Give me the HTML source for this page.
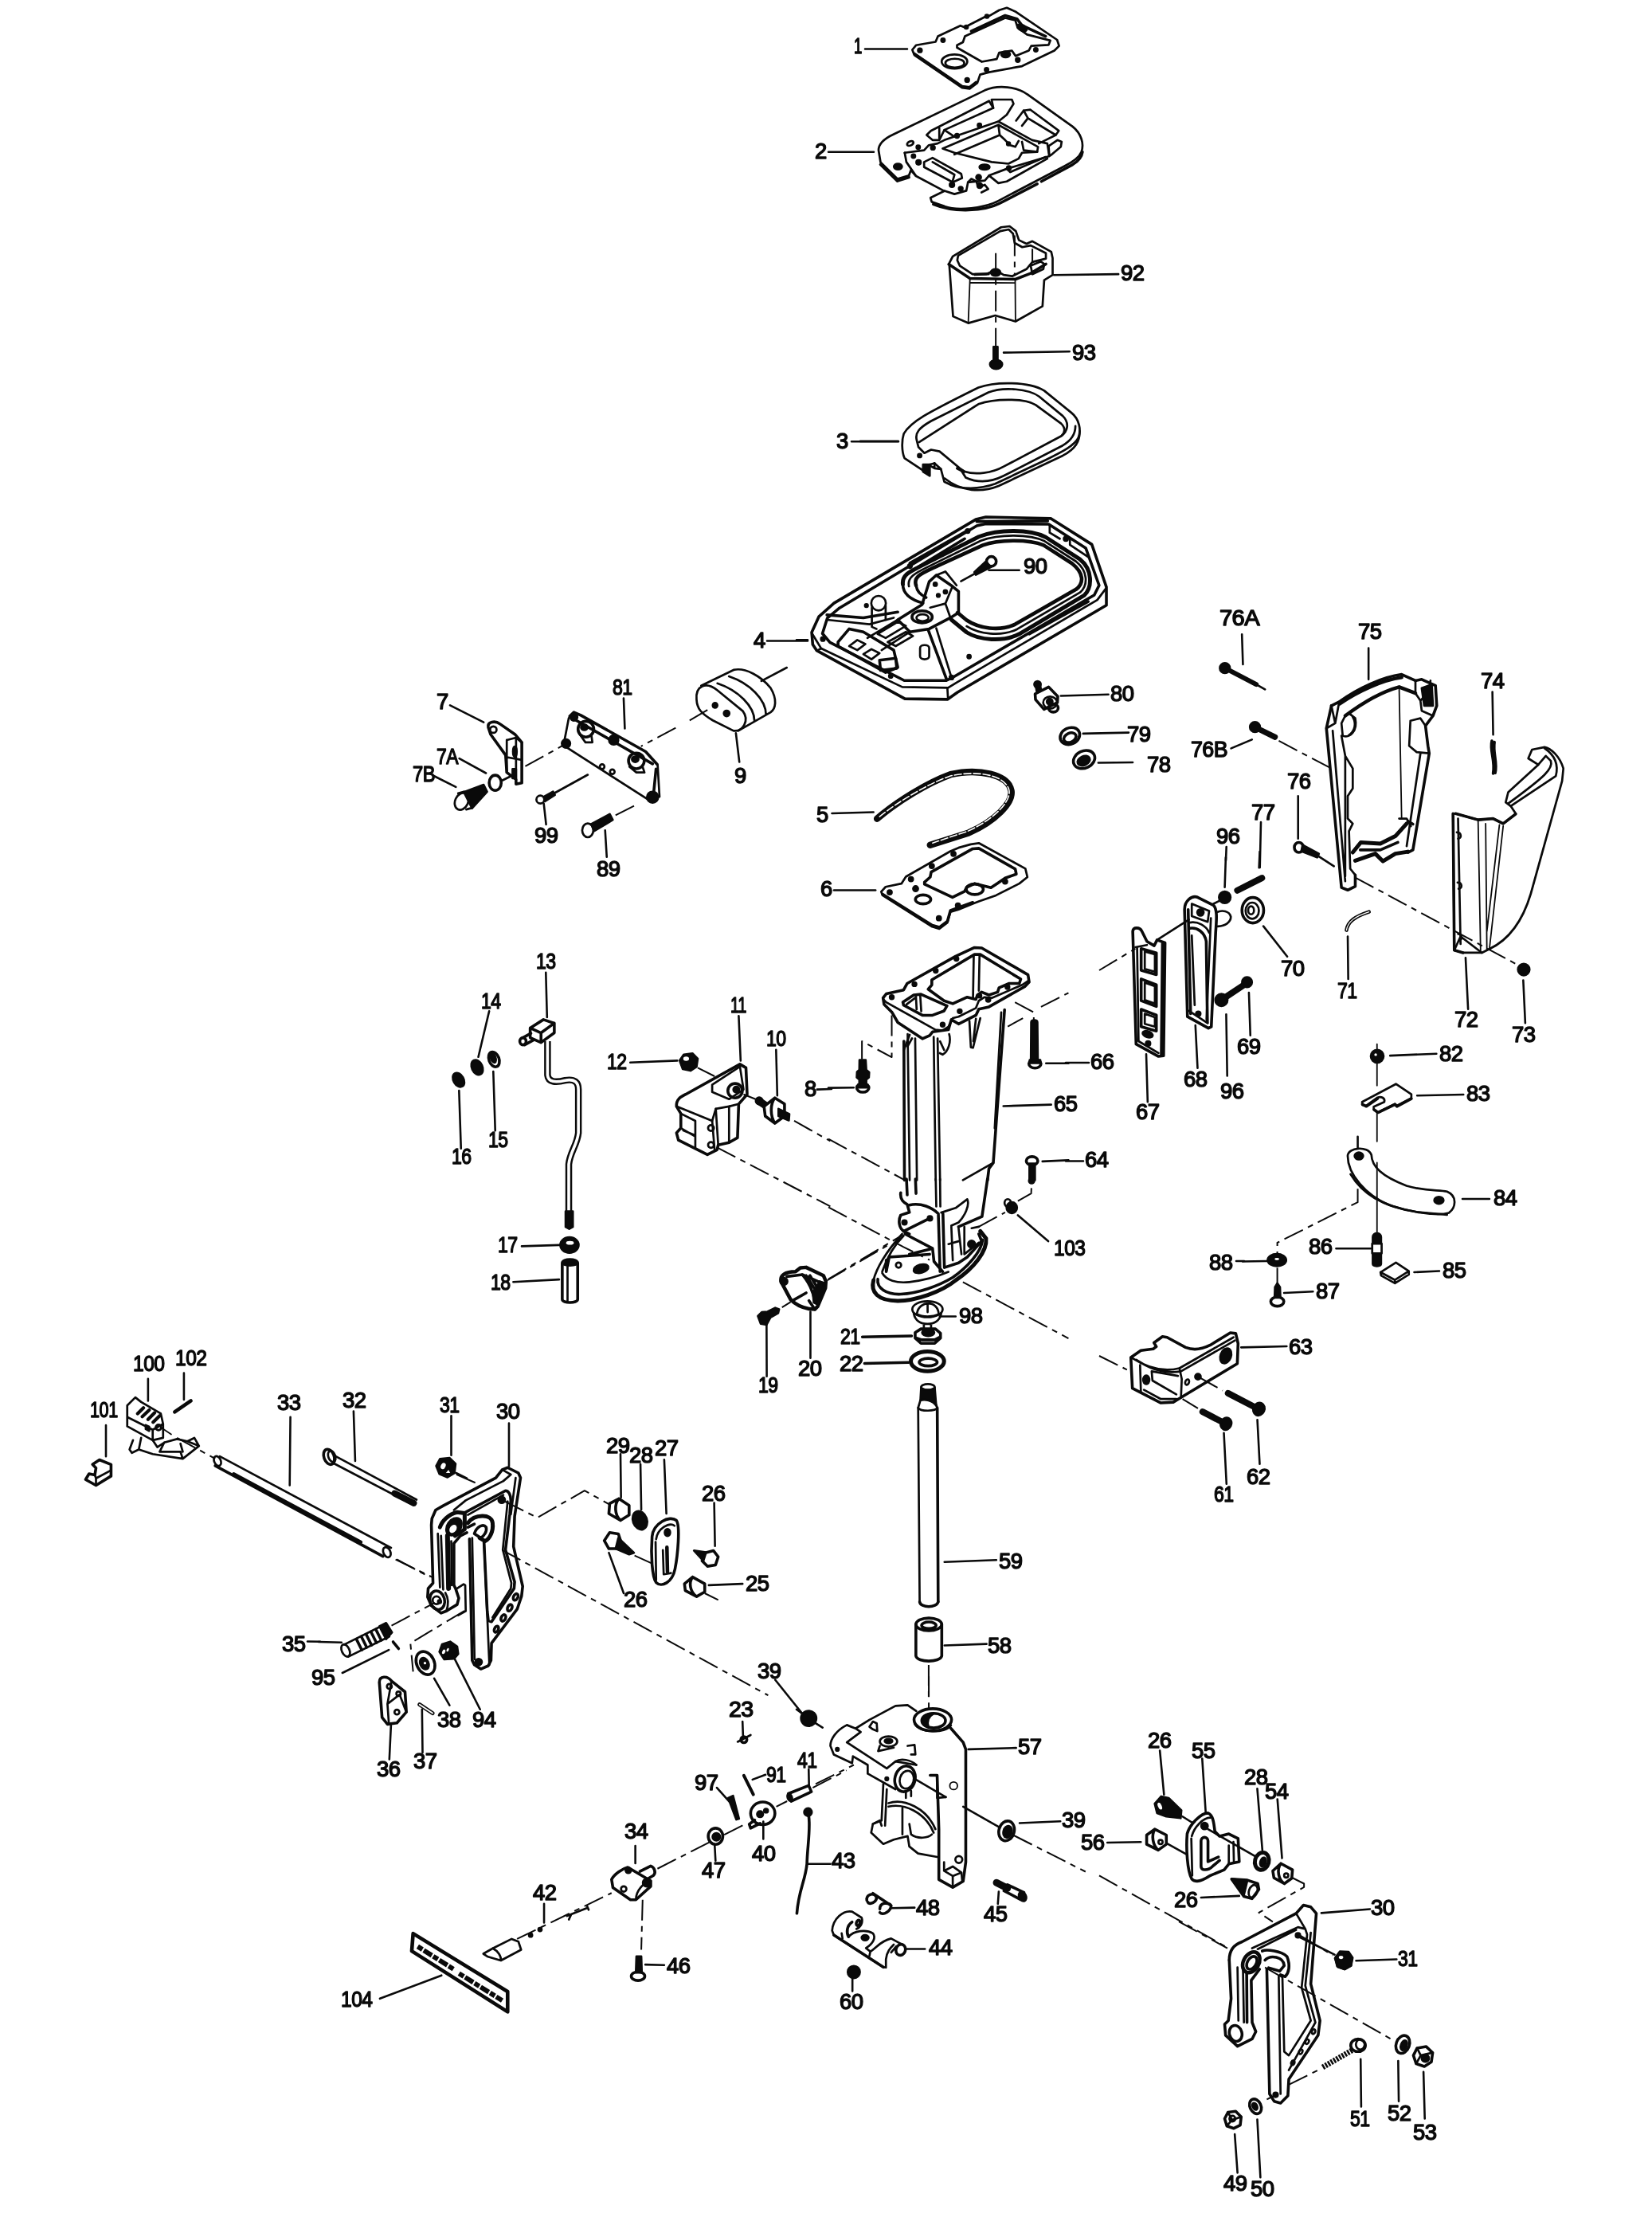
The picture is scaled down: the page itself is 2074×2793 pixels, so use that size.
<!DOCTYPE html>
<html><head><meta charset="utf-8"><title>Parts diagram</title>
<style>
html,body{margin:0;padding:0;background:#fff}
svg{display:block}
svg *{vector-effect:non-scaling-stroke}
.d path,.d line,.d ellipse,.d circle,.d polyline,.d rect{fill:none;stroke:#0a0a0a;stroke-width:2.7;stroke-linecap:round;stroke-linejoin:round}
.d .f{fill:#0a0a0a}
.d .w{fill:#fff}
.d .t{stroke-width:1.8}
.d .k{stroke-width:3.6}
.d .c{stroke-width:2;stroke-dasharray:26 7 7 7;stroke-linecap:butt}
.d .l{stroke-width:2.6}
text{font-family:"Liberation Sans",sans-serif;font-size:28.5px;fill:#0a0a0a;stroke:#0a0a0a;stroke-width:1.5;stroke-linejoin:round;letter-spacing:-0.6px}
</style></head><body>
<svg width="2074" height="2793" viewBox="0 0 2074 2793">
<rect width="2074" height="2793" fill="#fff"/>
<g class="d" transform="translate(1050,0) scale(0.211864)"><!-- a01_p1_p2.svgf -->
<path d="M450,295 L472,268 L588,248 L602,215 L735,152 L760,162 L880,100 L905,95 L965,60 L1010,46 L1060,68 L1308,236 L1320,272 L1292,300 L1100,392 L905,428 L852,442 L835,492 L790,526 L745,520 L462,326 Z"/>
<path class="k" d="M462,318 L745,512 L790,518 L828,488"/>
<path d="M715,268 L750,250 L762,215 L1000,106 L1060,120 L1075,165 L1130,205 L1268,240 L1258,266 L1155,272 L1140,300 L1062,332 L1040,300 L965,312 L950,350 L862,366 L715,282 Z"/>
<path class="k" d="M800,185 L1000,92 L1070,112 L1100,150 L1240,215"/>
<ellipse cx="700" cy="365" rx="76" ry="42"/>
<ellipse cx="702" cy="374" rx="56" ry="26"/>
<circle class="f" cx="495" cy="298" r="11"/><circle class="f" cx="632" cy="238" r="10"/><circle class="f" cx="770" cy="160" r="9"/><circle class="f" cx="892" cy="97" r="9"/>
<ellipse class="f" cx="1100" cy="165" rx="30" ry="16" transform="rotate(30 1100 165)"/>
<circle class="f" cx="1182" cy="295" r="10"/><circle class="f" cx="1075" cy="355" r="11"/><circle class="f" cx="890" cy="413" r="10"/><circle class="f" cx="775" cy="474" r="11"/>
<ellipse class="f" cx="1003" cy="322" rx="26" ry="17"/>
<path d="M250,890 C250,850 290,818 340,795 L880,535 C960,500 1075,515 1130,558 L1400,750 C1450,790 1470,850 1452,900 C1440,930 1400,960 1350,985 L960,1190 C880,1232 720,1252 640,1222 L565,1196 L558,1172 L640,1132 L470,1042 L442,1008 L430,1040 L362,1060 L262,962 Z"/>
<path class="k" d="M262,975 L362,1072 L430,1050"/>
<path class="k" d="M575,1210 C700,1262 880,1250 965,1206 L1190,1090 M1215,1075 L1400,975 C1440,950 1455,925 1458,900"/>
<path d="M405,905 L520,890 L548,860 L600,850 L640,830 L960,720 L1160,830 L1250,850 L1262,925 L1010,1000 L905,1040 L880,1070 L780,1080 L770,1130 L700,1150 L640,1130"/>
<path d="M405,905 L415,960 L470,1040"/>
<path d="M535,800 L560,775 L905,598 L930,640 L640,770 L610,830 L570,830 Z"/>
<path d="M930,640 L920,590 L1040,590 L1050,615 L1010,680 L960,720"/>
<path d="M640,770 L700,810 M610,760 L610,820"/>
<path d="M1065,715 L1110,655 L1150,650 L1318,775 L1300,800 L1240,830 L1200,850"/>
<path d="M1110,655 L1135,700 L1100,745 M1135,700 L1300,800"/>
<path d="M1262,925 L1258,865 L1310,830 L1335,840 L1330,870 L1270,920"/>
<path d="M630,880 L960,740 L1195,870 L1190,900 L1100,905 L1080,940 L1020,970 L920,960 L700,905 Z"/>
<path d="M960,740 L968,800 L1000,830 L1030,860 M700,915 L968,800 M1100,840 L1110,890 L1190,900 M1030,860 L1060,870 L1080,835"/>
<path d="M520,960 L570,935 L740,1030 L745,1055 L690,1080 L520,990 Z"/>
<path d="M570,960 L700,1035 L690,1070"/>
<path d="M905,1040 L960,1085 L1010,1075 L1250,940"/>
<path d="M1010,1000 L1030,1020 L1240,930"/>
<path d="M780,1080 L800,1060 L830,1075 L840,1110 L880,1095 L900,1120 L860,1140"/>
<ellipse cx="438" cy="850" rx="20" ry="12" transform="rotate(-25 438 850)"/>
<ellipse class="f" cx="365" cy="987" rx="24" ry="17"/><ellipse class="f" cx="878" cy="990" rx="30" ry="15"/>
<circle class="f" cx="485" cy="872" r="10"/><circle class="f" cx="572" cy="875" r="11"/><circle class="f" cx="457" cy="925" r="10"/><circle class="f" cx="487" cy="962" r="13"/>
<circle class="f" cx="715" cy="805" r="11"/><circle class="f" cx="848" cy="742" r="10"/><circle class="f" cx="1020" cy="852" r="9"/><circle class="f" cx="1022" cy="996" r="11"/>
<circle class="f" cx="685" cy="1095" r="13"/><circle class="f" cx="737" cy="1118" r="11"/><circle class="f" cx="843" cy="1050" r="14"/><circle class="f" cx="850" cy="1100" r="14"/>
</g>
<g class="d" transform="translate(1080,270) scale(0.211864)"><!-- a02_p92_p3.svgf -->
<path d="M525,290 L548,245 L835,72 L885,66 L922,95 L940,148 L985,170 L1020,155 L1132,218 L1140,255 L1140,355 L1090,385 L1080,540 L920,630 L800,595 L640,640 L550,600 L528,300"/>
<path d="M575,268 L580,240 L830,95 L880,85 L905,110 L915,165 L960,190 L1010,180 L1100,225 L1100,258 L1020,278 L985,320 L900,362 L850,355 L800,325 L745,350 L665,350 L590,300 Z"/>
<path class="k" d="M525,292 L650,375 L920,380 L1010,345 L1100,290"/>
<path class="t" d="M650,400 L915,402 M650,380 L640,640 M918,385 L920,630"/>
<path d="M1010,300 L1070,275 L1090,290 L1085,320 L1020,350 Z"/>
<ellipse class="f" cx="802" cy="340" rx="28" ry="20"/>
<path class="k" d="M680,352 L760,348"/>
<path class="c t" d="M803,225 L803,790 M915,120 L915,360 M1020,200 L1020,280"/>
<rect class="f" x="790" y="780" width="24" height="95"/><ellipse class="f" cx="805" cy="885" rx="36" ry="27"/>
<path class="l" d="M1148,355 L1530,350 M850,815 L1240,808"/>
<path d="M258,1295 C300,1225 380,1180 700,1022 C800,985 1000,985 1090,1040 L1250,1170 C1300,1210 1310,1275 1292,1320 C1270,1365 1200,1400 1100,1450 L800,1592 C700,1628 600,1622 540,1600 L498,1580 L478,1505 L440,1470 L405,1480 L385,1522 L262,1440 C245,1400 245,1335 258,1295 Z"/>
<path d="M335,1335 C322,1290 350,1260 420,1220 L760,1050 C850,1015 1000,1030 1060,1075 L1200,1190 C1240,1230 1232,1280 1190,1310 L850,1490 C780,1530 680,1540 620,1520 L590,1500 L470,1400 L420,1390 L380,1410 L345,1375 Z"/>
<path d="M350,1345 L700,1120 C800,1085 980,1085 1040,1125 L1190,1235 C1215,1260 1215,1285 1195,1305"/>
<path d="M600,1515 L625,1555 C700,1590 780,1580 850,1545 L1200,1365 C1260,1330 1275,1290 1275,1250"/>
<path d="M500,1560 C600,1640 720,1645 820,1605 L1200,1425 C1275,1385 1302,1340 1300,1280"/>
<path d="M405,1480 L440,1500 L478,1505 M440,1470 L440,1500 M385,1480 L385,1522"/>
<path class="f" d="M372,1478 L412,1478 L412,1545 L372,1520 Z"/>
<circle class="f" cx="352" cy="1425" r="10"/>
<path class="k" d="M575,1500 L615,1520"/>
<path class="l" d="M0,1340 L225,1340"/>
</g>
<g class="d" transform="translate(1000,600) scale(0.254259)"><!-- a03_p4.svgf -->
<path class="k" d="M75,762 L110,685 L185,618 L885,205 L935,193 L1255,200 L1458,328 L1530,538 L1530,628 L1490,652 L795,1058 L745,1093 L535,1090 L100,852 L80,822 Z"/>
<path d="M78,770 L122,842 L522,1032 L748,1036 L790,1010 L1485,602 L1528,545"/>
<path class="k" d="M128,768 L152,692 L212,642 L890,236 L935,226 L1245,228 L1428,346 L1494,530 L1470,578 L772,984 L740,1000 L532,1000 L165,812 Z"/>
<path d="M745,1040 L748,1090 M122,842 L105,850"/>
<path class="k" d="M560,420 L840,262 M600,440 L830,300 M890,215 L1240,212 M1150,770 L1440,610"/>
<path style="stroke-width:5" d="M525,525 C520,480 560,462 600,442 L900,290 C1000,252 1150,252 1230,292 L1400,402 C1462,452 1462,540 1420,580 L1100,770 C1020,812 900,800 840,762 L765,700"/>
<path style="stroke-width:4.6" d="M590,530 C575,485 620,470 700,432 L920,332 C1000,302 1150,302 1220,332 L1360,422 C1420,470 1420,520 1380,550 L1080,722 C1000,760 900,742 840,702 L795,665"/>
<path d="M555,535 C545,490 585,470 650,438 L910,310 C1000,276 1150,276 1225,312 L1380,412 C1440,460 1440,530 1400,565 L1090,746 C1010,786 900,770 840,732"/>
<path class="k" d="M525,525 C525,570 560,600 625,618 M590,530 C595,560 610,575 640,590"/>
<path class="k" d="M655,512 L690,480 L770,535 L800,560 L800,665 L760,690 L655,745 L560,760 L500,700 L620,625 Z"/>
<path d="M690,480 L735,462 L790,530 M760,690 L735,620 L770,535 M660,640 L735,620"/>
<ellipse class="k" cx="620" cy="686" rx="50" ry="30"/><ellipse cx="622" cy="690" rx="30" ry="17"/>
<circle class="f" cx="685" cy="525" r="8"/><circle class="f" cx="735" cy="562" r="8"/><circle class="f" cx="700" cy="580" r="7"/>
<path class="k" d="M150,676 L330,690 L500,662 M650,750 L740,992"/>
<path d="M150,700 L360,722 L480,690 M690,742 L765,985 M500,700 L350,790 M560,760 L420,850"/>
<circle cx="405" cy="618" r="36"/><path d="M372,640 L372,735 L395,745 M440,630 L440,700"/><circle class="f" cx="345" cy="630" r="7"/>
<path class="k" d="M205,810 L260,745 L330,760 L480,850 L500,935 L440,960 L205,830 Z"/>
<path d="M260,830 L300,800 L340,820 L300,850 Z M330,870 L370,845 L410,865 L370,895 Z M400,770 L500,710 L540,730 L440,790 Z M450,810 L540,760 L575,780 L490,830 Z"/>
<path class="k" d="M410,900 L490,890 L495,940 L415,950 Z"/>
<path d="M610,840 C610,820 655,820 655,840 L655,880 C655,900 610,900 610,880 Z"/>
<circle class="f" cx="852" cy="882" r="8"/><circle class="f" cx="765" cy="985" r="9"/><circle class="f" cx="465" cy="978" r="8"/><circle class="f" cx="130" cy="795" r="9"/><circle class="f" cx="845" cy="262" r="9"/><circle class="f" cx="1330" cy="300" r="10"/><circle class="f" cx="560" cy="435" r="9"/>
<path d="M1250,235 L1250,270 L1300,300 M1350,300 L1350,330 L1440,390"/>
<circle class="k" cx="962" cy="412" r="24"/><path class="f" d="M935,412 L960,440 L885,478 L878,465 Z"/>
<path class="l" d="M950,455 L1100,455 M880,472 L812,510 M0,800 L55,800"/>
</g>
<g class="d" transform="translate(1000,840) scale(0.254259)"><!-- a04_p5_78_80.svgf -->
<circle class="f" cx="1190" cy="75" r="16"/><path class="f" d="M1180,75 L1202,75 L1208,105 L1186,110 Z"/>
<path class="k" d="M1178,122 L1245,88 L1290,135 L1288,165 L1222,198 L1180,150 Z"/>
<ellipse cx="1252" cy="165" rx="34" ry="30"/>
<ellipse class="k" cx="1268" cy="192" rx="24" ry="20"/><ellipse class="f" cx="1250" cy="160" rx="14" ry="14"/>
<ellipse class="k" cx="1350" cy="330" rx="50" ry="40" transform="rotate(-25 1350 330)"/><ellipse class="k" cx="1350" cy="338" rx="32" ry="22" transform="rotate(-25 1350 338)"/>
<ellipse class="k" cx="1420" cy="446" rx="55" ry="42" transform="rotate(-25 1420 446)"/><ellipse class="f" cx="1418" cy="452" rx="32" ry="22" transform="rotate(-25 1418 452)"/>
<path class="l" d="M1305,132 L1540,125 M1415,318 L1640,313 M1490,462 L1660,460 M175,712 L380,706"/>
<path style="stroke-width:8.5" d="M398,738 C500,650 650,560 760,520 C900,488 1045,520 1060,600 C1070,660 980,750 850,808 L660,868"/>
<path style="stroke:#fff;stroke-width:1.6;stroke-dasharray:9 3" d="M410,728 C500,655 650,565 760,527 C900,496 1035,525 1050,600 C1058,655 975,742 845,800 L672,858"/>
</g>
<g class="d" transform="translate(1000,1040) scale(0.254259)"><!-- a05_p6.svgf -->
<path d="M418,312 L440,288 L518,272 L540,238 L760,112 L800,95 L860,78 L900,72 L1130,198 L1140,240 L1100,272 L985,330 L900,360 L870,372 L800,400 L760,412 L745,465 L705,495 L670,485 L425,330 Z"/>
<path class="k" d="M425,325 L670,478 L705,488 L745,458 L760,405 L870,365"/>
<path class="k" d="M632,265 L660,240 L665,215 L870,100 L900,98 L1080,200 L1085,225 L1030,245 L990,272 L960,292 L920,282 L880,272 L840,290 L830,310 L770,340 L632,275 Z"/>
<ellipse class="k" cx="625" cy="350" rx="38" ry="22"/><ellipse class="k" cx="880" cy="300" rx="42" ry="26"/>
<circle class="f" cx="460" cy="315" r="10"/><circle class="f" cx="565" cy="250" r="10"/><circle class="f" cx="668" cy="185" r="10"/><circle class="f" cx="775" cy="125" r="10"/><circle class="f" cx="588" cy="297" r="12"/><circle class="f" cx="1030" cy="262" r="10"/><circle class="f" cx="797" cy="380" r="10"/><circle class="f" cx="703" cy="443" r="10"/>
<path class="l" d="M185,305 L390,305"/>
</g>
<g class="d" transform="translate(1040,1180) scale(0.181587)"><!-- a06_p65top.svgf -->
<path class="k" d="M378,400 L400,372 L520,345 L545,300 L880,112 L1010,52 L1060,55 L1380,240 L1388,290 L1360,320 L1110,462 L1040,478 L1020,520 L900,580 L850,550 L830,620 L720,635 L700,660 L650,682 L480,570 L440,500 L385,445 Z"/>
<path d="M385,415 L400,430 L740,620 L790,625 L830,600 L860,540 L900,530 L1020,470 L1040,420 L1080,395 L1130,400 L1340,310 L1385,280"/>
<path class="k" d="M715,275 L1010,100 L1050,100 L1330,270 L1320,300 L1250,300 L1180,330 L1170,360 L1110,380 L1060,360 L1030,380 L1020,410 L960,395 L860,440 L800,420 L690,340 L715,310 Z"/>
<path class="k" d="M515,430 L590,380 L640,375 L820,455 L800,490 L720,520 L650,520 L520,450 Z"/>
<path d="M1005,105 L1000,395 M1045,105 L1040,350 M605,385 L610,480 M635,385 L642,492 M540,445 L600,400"/>
<circle class="f" cx="438" cy="395" r="13"/><circle class="f" cx="595" cy="305" r="13"/><circle class="f" cx="742" cy="212" r="13"/><circle class="f" cx="885" cy="130" r="13"/><circle class="f" cx="1238" cy="325" r="13"/><circle class="f" cx="1105" cy="412" r="14"/><circle class="f" cx="908" cy="492" r="13"/><circle class="f" cx="790" cy="585" r="13"/><circle class="f" cx="1045" cy="385" r="12"/>
<path class="k" d="M522,700 L526,1660 M1218,482 L1140,1540 L1110,1580 L1100,1660"/>
<path d="M548,650 L562,1660 M600,680 L612,1660 M728,670 L742,1660 M755,680 L772,1660"/>
<path d="M562,655 L522,760 M578,680 L548,735 M1195,500 L1150,1300"/>
<path d="M975,560 L985,742 L1000,745 L1050,540 M1020,545 L1002,700"/>
<path d="M835,650 C850,700 830,772 790,792 L770,782 M772,700 L800,760"/>
<path d="M1140,1540 L1000,1620 L930,1660"/>
<path class="f" d="M215,830 L258,830 L262,898 L282,915 L280,950 L262,965 L262,995 L214,995 L214,965 L196,950 L198,912 L214,898 Z"/>
<ellipse class="k" cx="238" cy="1022" rx="42" ry="30"/><path class="f" d="M205,1000 L272,1000 L272,1020 L205,1020 Z"/>
<path class="c t" d="M438,520 L438,810 L232,700 L232,825"/>
<path class="f" d="M1402,568 C1402,550 1445,550 1445,568 L1448,830 L1400,830 Z"/><ellipse class="k" cx="1428" cy="855" rx="42" ry="30"/><path class="f" d="M1392,830 L1465,830 L1465,850 L1392,850 Z"/>
<path class="c t" d="M1290,430 L1420,500 L1420,560 M1240,598 L1345,540 M1470,462 L1660,365"/>
<ellipse class="k" cx="1408" cy="1527" rx="40" ry="30"/><path class="f" d="M1390,1545 L1428,1545 L1428,1660 L1390,1660 Z"/>
<path class="l" d="M0,1022 L175,1020 M1505,852 L1660,852 M1210,1148 L1540,1138 M1480,1530 L1660,1522"/>
<path class="c t" d="M0,1375 L520,1655"/>
</g>
<g class="d" transform="translate(1040,1480) scale(0.181587)"><!-- a07_p65bot.svgf -->
<path style="stroke-width:5" d="M312,700 C290,780 340,842 480,842 C600,842 780,782 880,700 C1000,620 1100,500 1090,410 L1050,360"/>
<path class="k" d="M342,692 C332,752 400,800 500,796 C620,790 760,740 860,680 C960,610 1060,500 1066,420"/>
<path d="M312,700 C330,620 400,500 510,380 M372,640 C400,560 440,470 520,392 M372,650 C400,700 470,722 560,712 C680,700 760,672 830,642"/>
<path class="k" d="M540,0 L545,110 M602,0 L606,100"/>
<path d="M742,0 L746,190 M772,0 L774,190"/>
<path class="k" d="M500,95 C495,135 515,160 545,175 L560,230 L500,250 C480,290 490,340 520,360 L560,380"/>
<path class="k" d="M560,180 C640,160 720,200 760,240 L772,640 M520,362 L700,272 M530,380 L720,480 L730,570 L790,640 M560,520 L720,480 M400,640 L420,540 L700,520"/>
<circle class="f" cx="702" cy="272" r="15"/><circle class="f" cx="526" cy="300" r="15"/>
<path class="k" d="M1100,0 L1062,260 L900,330"/>
<path d="M960,140 C980,180 940,260 900,300 L850,322 M780,232 L880,200 L960,140"/>
<path class="k" d="M792,240 L802,612 L900,580 L960,540 L1060,430 L1040,380"/>
<path d="M850,330 L860,562 M900,340 L920,520 M940,330 L940,520 L1040,440 M990,340 L1040,330 M830,450 L900,430"/>
<circle class="f" cx="990" cy="450" r="24"/><ellipse class="f" cx="640" cy="620" rx="52" ry="28" transform="rotate(-15 640 620)"/><circle cx="485" cy="595" r="18"/>
<path class="k" d="M400,560 L400,630"/>
<ellipse class="f" cx="1268" cy="198" rx="36" ry="38"/><ellipse cx="1240" cy="165" rx="22" ry="26"/>
<circle class="f" cx="1405" cy="12" r="18"/>
<path class="c t" d="M1040,330 L1222,230 M1310,152 L1402,100 L1405,32 M930,712 L1660,1102 M0,195 L520,470 L700,560 M0,692 L500,395"/>
<path class="l" d="M1310,250 L1520,430 M770,950 L880,950"/>
<ellipse cx="685" cy="900" rx="105" ry="55"/><path d="M612,930 C620,880 660,860 690,860 C730,860 760,890 762,930 M590,930 C600,980 640,1002 685,1002 C730,1002 770,980 780,930 M612,935 C650,955 720,955 765,935 M660,1000 L660,1040 M710,1000 L710,1040 M686,870 L686,920"/>
<path class="k" d="M600,1062 L640,1036 L740,1036 L775,1066 L775,1100 L735,1136 L640,1136 L600,1100 Z M605,1098 L645,1112 L735,1112 L772,1092"/>
<ellipse class="f" cx="690" cy="1062" rx="42" ry="24"/>
<path class="k" d="M235,1092 L575,1085 M250,1275 L555,1268"/>
<ellipse style="stroke-width:5" cx="685" cy="1260" rx="115" ry="68"/><ellipse class="k" cx="690" cy="1266" rx="62" ry="26"/>
</g>
<g class="d" transform="translate(520,820) scale(0.290554)"><!-- a08_p7_81_9.svgf -->
<path d="M1220,200 C1215,140 1260,120 1310,160 L1420,250 C1450,290 1420,340 1380,335 L1290,290 C1240,260 1222,240 1220,200 Z"/>
<path d="M1240,140 L1380,72 C1430,60 1500,100 1540,150 C1570,200 1562,240 1540,255 L1400,335 M1310,130 C1400,160 1470,230 1470,292 M1360,100 C1450,130 1520,200 1520,266"/>
<circle class="f" cx="1300" cy="225" r="10"/><circle class="f" cx="1350" cy="260" r="12"/>
<path class="c t" d="M1190,290 L1300,226 M1130,322 L980,402 M480,488 L640,400 M870,700 L965,652"/>
<path class="l" d="M1500,120 L1610,62 M1390,345 L1405,470 M905,195 L910,325 M155,225 L300,298 M195,455 L310,518 M85,530 L180,578 M560,650 L570,740 M825,765 L832,880"/>
<path class="k" d="M320,320 C315,295 350,290 370,305 L435,350 L465,385 L465,560 L440,565 L440,545 L400,515 L395,440 L330,350 Z"/>
<circle cx="342" cy="330" r="14"/><path d="M400,375 L440,365 L465,385 M400,375 L400,515 M440,365 L440,545 M405,450 L460,460"/>
<ellipse class="f" cx="435" cy="425" rx="8" ry="22"/><path class="f" d="M425,500 L440,500 L440,540 L425,540 Z"/>
<ellipse class="k" cx="350" cy="560" rx="26" ry="33"/><path d="M380,550 L430,525"/>
<ellipse cx="205" cy="640" rx="28" ry="38" transform="rotate(25 205 640)"/><path class="f" d="M215,600 L300,568 L315,598 L250,670 L235,640 Z"/><path d="M190,605 L215,598 M225,675 L250,668"/>
<path d="M668,280 L645,398 L1020,638 L1060,620 L1052,485"/>
<path class="k" d="M672,272 L690,255 L720,268 L1000,425 L1050,480 M700,290 L1030,478 M1045,500 L1035,600"/>
<circle class="k" cx="742" cy="328" r="34"/><path d="M715,350 L740,385 L770,385 L765,350"/><ellipse class="f" cx="735" cy="320" rx="14" ry="12"/>
<circle class="k" cx="960" cy="465" r="34"/><path d="M930,490 L960,515 L995,515 L985,485"/><ellipse class="f" cx="955" cy="458" rx="14" ry="12"/>
<circle class="f" cx="656" cy="390" r="18"/><circle class="f" cx="862" cy="375" r="20"/><circle class="f" cx="1030" cy="622" r="24"/><circle class="f" cx="690" cy="276" r="15"/><circle cx="812" cy="490" r="10"/><circle cx="856" cy="512" r="10"/>
<ellipse cx="545" cy="632" rx="17" ry="17"/><path class="f" d="M560,620 L600,598 L608,612 L565,640 Z"/><path d="M605,605 L750,525"/>
<ellipse cx="750" cy="765" rx="24" ry="30"/><path class="f" d="M765,738 L845,695 L858,720 L778,768 Z"/>
</g>
<g class="d" transform="translate(1500,760) scale(0.314772)"><!-- a09_p75_72.svgf -->
<path class="l" d="M188,115 L192,235 M693,170 L693,295 M1187,345 L1190,515 M145,570 L228,535 M412,760 L412,930 M610,1320 L612,1490 M1080,1405 L1090,1610 M1310,1495 L1318,1665"/>
<circle class="f" cx="120" cy="250" r="20"/><path style="stroke-width:6" d="M125,252 L245,315"/><path d="M245,315 L280,335"/>
<circle class="f" cx="240" cy="485" r="20"/><path style="stroke-width:7" d="M245,488 L320,525"/>
<path class="c t" d="M335,540 L545,650 M640,1085 L1285,1432"/>
<ellipse class="k" cx="415" cy="965" rx="18" ry="20"/><path class="f" d="M430,955 L495,990 L488,1005 L425,980 Z"/><path d="M490,998 L555,1040"/>
<path style="stroke-width:4.5" d="M605,1295 C610,1260 640,1240 695,1222"/><path style="stroke:#fff;stroke-width:1.2" d="M605,1295 C610,1260 640,1240 695,1222"/>
<path class="k" d="M1185,540 C1175,580 1200,620 1190,670 M1195,545 C1188,590 1208,625 1198,668"/>
<circle class="f" cx="1312" cy="1452" r="23"/>
<path class="k" d="M545,400 L525,490 L585,1125 L610,1135 L640,1120 L640,1075"/>
<path class="k" d="M545,400 L575,385 C650,330 750,285 825,275 L880,300 L905,295 L960,320 L965,400 L950,440 L920,480 L930,560 L935,590 L870,975 L850,985"/>
<path style="stroke-width:4.5" d="M578,392 C650,342 750,297 825,287 M600,440 C680,380 760,340 815,325 L880,350"/>
<path d="M600,440 L585,470 L590,520 C620,530 650,500 640,450 L615,430 M612,520 C640,500 645,470 630,445"/>
<path d="M585,520 L600,600 L600,1080 M600,600 L630,650 L630,730 L610,760 L610,850 L630,870 L615,900 L620,1050 L640,1075 M550,500 L600,1100 M525,490 L560,470 L575,390 M545,400 L560,470"/>
<path d="M880,350 L900,380 L935,340 L940,300 M860,460 L900,450 L920,480 M860,460 L855,560 L885,585 L935,590 M900,590 L845,960 M880,300 L880,350 M900,380 L905,420 L950,440"/>
<path class="t" d="M815,325 L825,850"/>
<path class="f" d="M905,330 L945,315 L950,400 L915,400 Z"/>
<path style="stroke-width:5" d="M630,985 L662,945 L740,950 L800,920 L845,870 M640,1018 L720,990 L750,1020 L800,990 L850,982"/>
<path class="k" d="M660,975 L740,975 L810,945 M850,860 L870,872"/>
<path d="M815,850 L845,850 L862,880"/>
<path d="M1030,830 L1035,1375 L1070,1385 L1145,1385 L1175,1370 C1260,1330 1310,1250 1340,1150 L1465,700 L1470,650 C1455,600 1420,570 1395,565 L1345,575 L1330,610 L1370,635 L1250,745 L1240,785 L1260,800 L1280,830 L1230,870 L1190,850 L1130,855 L1040,830 Z"/>
<path class="k" d="M1030,830 L1035,1375 L1070,1385 M1040,830 L1130,855 L1190,850 L1230,870 L1280,832"/>
<path d="M1370,635 L1400,600 L1420,620 C1430,650 1400,680 1250,790 M1395,570 C1440,600 1450,640 1440,680 L1260,800"/>
<path d="M1050,850 L1060,1350 M1035,1375 L1060,1320 L1145,1385"/>
<path class="t" d="M1130,860 L1140,1380 M1160,870 L1165,1375 M1230,880 L1175,1370 M1215,875 L1165,1300"/>
<path d="M1045,905 C1065,905 1065,930 1050,930 M1048,1105 C1068,1105 1068,1130 1052,1130 M1050,1310 C1068,1310 1068,1335 1055,1335"/>
</g>
<g class="d" transform="translate(1380,1080) scale(0.181587)"><!-- a10_p67_68.svgf -->
<path class="l" d="M325,1340 L335,1670 M665,1140 L680,1435 M878,1065 L885,1490 M1035,915 L1045,1210 M1135,455 L1300,665 M875,-20 L868,185 M1110,-60 L1105,50 M400,550 L620,410"/>
<path class="c t" d="M0,760 L250,610"/>
<path class="k" d="M232,490 C235,460 280,460 295,490 L330,560 L380,590 L400,550 L455,570 L445,1350 L410,1355 L255,1270 Z"/>
<path style="stroke-width:4.5" d="M440,575 L432,1345"/>
<path d="M250,600 L330,585 M262,600 L272,1250 L410,1332"/>
<path class="k" d="M290,610 L395,640 L395,790 L290,760 Z M290,820 L395,860 L395,1010 L290,970 Z M290,1030 L395,1070 L395,1180 L290,1150 Z"/>
<path d="M315,630 L385,650 L385,770 L315,750 Z M315,845 L385,870 L385,990 L315,965 Z M315,1060 L385,1085 L385,1150 L315,1130 Z"/>
<ellipse class="f" cx="335" cy="1202" rx="36" ry="20" transform="rotate(20 335 1202)"/><circle class="f" cx="338" cy="1266" r="15"/>
<path class="k" d="M590,340 C590,280 640,240 680,255 L790,310 C820,340 810,420 805,500 L775,1150 L755,1160 L610,1080 Z"/>
<path class="k" d="M615,340 L632,1060 M625,470 C680,460 730,500 740,560 L748,1120"/>
<path d="M640,300 L760,350 L750,425 L640,385 Z M640,520 L660,1000 M772,400 L742,1100 M625,430 C680,420 740,450 760,500 M620,1040 L750,1125"/>
<circle class="f" cx="700" cy="360" r="22"/><circle class="f" cx="685" cy="1060" r="15"/>
<path d="M810,360 C850,340 900,350 910,390 C910,430 870,452 820,456 M790,300 L830,280"/>
<circle class="f" cx="868" cy="255" r="40"/>
<path style="stroke-width:8" d="M955,208 L1125,122"/>
<ellipse class="k" cx="1062" cy="345" rx="75" ry="88"/><ellipse cx="1058" cy="348" rx="46" ry="56"/><ellipse cx="1050" cy="345" rx="20" ry="28"/>
<circle class="f" cx="1022" cy="842" r="34"/><path style="stroke-width:8" d="M1010,855 L860,955"/><circle class="f" cx="845" cy="965" r="42"/>
</g>
<g class="d" transform="translate(1560,1290) scale(0.242131)"><!-- a11_p82_88.svgf -->
<path class="l" d="M765,145 L1005,135 M905,352 L1145,347 M1140,888 L1280,888 M485,1145 L665,1145 M890,1268 L1020,1262 M215,1375 L365,1368 M0,1212 L125,1210 M597,565 L597,625"/>
<path class="t" d="M697,85 L697,300 M697,440 L697,590 M697,700 L697,1065"/>
<path class="c t" d="M597,835 L597,905 L180,1115 L180,1180 M180,1245 L180,1330"/>
<circle class="f" cx="698" cy="148" r="33"/><circle class="w" style="stroke:none" cx="690" cy="140" r="7"/>
<path d="M620,385 L795,292 L875,345 L875,365 L800,405 L790,395 L700,440 L680,425 L680,410 L735,385 C740,365 720,355 700,362 L640,405 L620,400 Z"/>
<path class="k" d="M622,398 L642,408 L700,368 M682,425 L702,440 L790,398 L800,408 L875,368"/>
<path d="M545,665 C545,620 650,610 668,660 C670,720 720,770 850,820 C950,850 1020,840 1060,850 C1110,870 1110,930 1070,960 C1000,980 850,950 760,920 C640,870 545,760 545,665 Z"/>
<path d="M560,760 C620,860 720,925 900,955 L1060,970"/>
<ellipse class="f" cx="603" cy="665" rx="22" ry="18"/><ellipse class="f" cx="1018" cy="895" rx="24" ry="18"/>
<path class="f" d="M675,1120 L675,1085 C675,1060 718,1060 718,1085 L718,1120 Z M675,1170 L718,1170 L718,1225 C718,1240 675,1240 675,1225 Z"/>
<path d="M672,1120 L672,1170 M721,1120 L721,1170"/>
<path d="M715,1268 L795,1218 L862,1262 L862,1280 L790,1325 L718,1285 Z M715,1268 L790,1308 L862,1262 M790,1308 L790,1325"/>
<ellipse class="f" cx="178" cy="1205" rx="48" ry="32"/><ellipse class="w" style="stroke:none" cx="178" cy="1200" rx="12" ry="6"/>
<path class="f" d="M180,1325 L194,1345 L196,1400 L166,1400 L168,1345 Z"/><ellipse class="k" cx="180" cy="1420" rx="34" ry="24"/>
</g>
<g class="d" transform="translate(1380,1640) scale(0.193705)"><!-- a12_p63.svgf -->
<path class="l" d="M920,265 L1215,258 M1025,735 L1040,1020 M808,820 L825,1150"/>
<path class="c t" d="M0,320 L180,410 M650,460 L800,545 M540,600 L640,660"/>
<path class="k" d="M205,330 L270,285 L350,275 L370,260 L355,235 L410,195 L440,200 L560,265 C620,290 680,270 720,250 L850,170 L885,175 L900,240 L895,370 L530,590 L480,620 L400,625 L215,530 Z"/>
<path d="M215,335 C300,390 400,430 520,400 L870,200 M240,345 C320,400 420,440 530,420 L880,220"/>
<path d="M520,400 L535,470 L530,590 M265,380 L270,550 M340,420 L345,480 L500,570 M340,420 L510,450 M290,540 L400,600 L500,600"/>
<ellipse class="f" cx="820" cy="320" rx="34" ry="50" transform="rotate(20 820 320)"/><ellipse cx="570" cy="490" rx="12" ry="18" transform="rotate(20 570 490)"/><circle class="f" cx="640" cy="455" r="18"/><ellipse class="f" cx="305" cy="475" rx="20" ry="28"/>
<path style="stroke-width:8" d="M835,562 L1000,648"/><ellipse class="f" cx="1035" cy="665" rx="36" ry="42" transform="rotate(25 1035 665)"/>
<path style="stroke-width:8" d="M670,682 L790,745"/><ellipse class="f" cx="822" cy="760" rx="34" ry="40" transform="rotate(25 822 760)"/>
</g>
<g class="d" transform="translate(540,1180) scale(0.302663)"><!-- a13_p10_18.svgf -->
<path class="l" d="M480,135 L485,320 M245,295 L200,485 M1280,315 L1288,500 M1435,455 L1440,645 M830,508 L1025,500 M1605,620 L1665,618 M262,545 L270,790 M120,625 L128,865 M380,1270 L535,1265 M345,1418 L535,1408"/>
<path class="c t" d="M1110,530 L1180,565 M1300,640 L1350,660 M1510,750 L1660,834 M1190,860 L1660,1105"/>
<path class="k" d="M415,365 L470,330 L515,345 L515,385 L460,425 L415,405 Z M415,365 L460,385 L515,345 M460,385 L460,425"/>
<ellipse class="k" cx="385" cy="420" rx="13" ry="15"/><path class="k" d="M385,405 L418,387 M392,435 L428,415"/>
<path style="stroke-width:8.5;stroke-linecap:butt" d="M487,420 L487,560 C490,590 520,592 560,582 C600,575 615,590 615,620 L615,800 C610,850 580,880 575,930 L575,1130"/>
<path style="stroke:#fff;stroke-width:3.6;stroke-linecap:butt" d="M487,418 L487,560 C490,590 520,592 560,582 C600,575 615,590 615,620 L615,800 C610,850 580,880 575,930 L575,1128"/>
<path class="f" d="M562,1125 L592,1125 L592,1190 L577,1198 L562,1190 Z"/>
<ellipse class="f" cx="578" cy="1265" rx="38" ry="32"/><ellipse class="w" style="stroke:none" cx="580" cy="1256" rx="16" ry="8"/>
<path class="k" d="M548,1340 C548,1320 612,1320 612,1340 L612,1490 C612,1508 548,1508 548,1490 Z"/><ellipse class="f" cx="580" cy="1340" rx="30" ry="10"/><path d="M570,1350 L570,1495"/>
<ellipse class="f" cx="195" cy="528" rx="22" ry="32" transform="rotate(-25 195 528)"/>
<ellipse class="k" cx="265" cy="495" rx="21" ry="32" transform="rotate(-20 265 495)"/><ellipse class="f" cx="260" cy="488" rx="10" ry="22" transform="rotate(-20 258 485)"/>
<ellipse class="f" cx="118" cy="580" rx="21" ry="31" transform="rotate(-30 118 580)"/>
<path class="f" d="M1035,500 L1052,475 L1088,470 L1110,492 L1105,526 L1080,542 L1048,535 Z"/><ellipse class="w" style="stroke:none" cx="1062" cy="492" rx="12" ry="9"/>
<path class="k" d="M1022,690 C1020,660 1040,650 1060,640 L1285,515 L1310,530 L1315,640 L1280,680 L1275,820 L1240,840 L1195,850 L1190,870 L1150,890 L1030,830 L1022,800 L1040,780 L1040,720 Z"/>
<path d="M1022,690 L1170,750 L1185,700 L1240,690 L1280,680 M1170,600 L1285,525 L1300,620 L1240,660 L1170,630 Z"/>
<circle class="k" cx="1265" cy="625" r="30"/><circle class="f" cx="1270" cy="620" r="12"/>
<path d="M1170,750 L1180,870 M1040,720 L1100,750 L1100,860 M1050,790 L1100,810 M1185,700 L1195,850 M1240,690 L1240,840 M1040,780 L1100,815"/>
<circle cx="1165" cy="780" r="12"/><circle cx="1165" cy="850" r="12"/>
<circle class="f" cx="1365" cy="667" r="14"/><path class="f" d="M1365,655 L1395,675 L1385,695 L1358,678 Z"/>
<path class="k" d="M1385,690 L1430,655 L1470,680 L1470,730 L1430,760 L1390,730 Z M1430,655 C1410,680 1410,730 1430,760"/>
<path class="f" d="M1445,700 L1490,722 L1488,748 L1445,730 Z"/>
</g>
<g class="d" transform="translate(920,1560) scale(0.121065)"><!-- a14_p19_20.svgf -->
<path class="l" d="M350,850 L352,1385 M805,715 L805,1195"/>
<path class="c t" d="M980,390 L1600,30 M510,670 L600,615"/>
<path style="stroke-width:4.5" d="M500,400 C490,340 540,300 650,300 L700,260 L760,255 L940,340 L965,400 L960,470 L880,660 L850,690 L790,685 C700,670 640,630 600,590 L520,440 Z"/>
<path class="k" d="M560,350 L640,340 L720,330 C780,400 830,500 850,600 M720,330 L880,400 L940,420 M760,340 L850,480 M800,340 L880,470 M620,600 L760,520 M790,600 L850,690"/>
<circle class="f" cx="530" cy="400" r="36"/><path class="f" d="M830,520 L900,400 L950,420 L880,640 L840,620 Z"/>
<path class="f" d="M260,760 L300,720 L360,715 L440,675 L480,690 L470,730 L390,775 L350,850 L290,840 Z"/>
</g>
<g class="d" transform="translate(90,1680) scale(0.290554)"><!-- a15_p100_33.svgf -->
<path class="l" d="M330,175 L330,270 M485,150 L485,265 M148,375 L148,510 M945,340 L942,635 M1218,315 L1225,530 M1640,335 L1640,505"/>
<path class="c t" d="M455,430 L620,520 M1405,955 L1548,1032"/>
<path style="stroke-width:4.5" d="M445,318 L515,270"/>
<path d="M240,290 L275,255 L300,275 L385,325 L395,370 L395,430 L350,440 L240,380 Z M240,340 L350,395 L350,440 M350,395 L395,370"/>
<path style="stroke-width:4.2" d="M285,325 L310,300 M305,338 L335,310 M330,350 L358,322 M352,362 L380,335"/>
<path class="f" d="M320,375 L335,382 L335,400 L320,392 Z"/>
<circle cx="375" cy="385" r="12"/><path class="t" d="M385,385 L430,415"/>
<path d="M265,440 L250,480 L260,495 L290,480 L350,500 L480,520 L550,465 L530,430 L500,445 L455,435 L400,450 L370,470 L350,440 M400,450 L380,490 L470,490 L480,520 M470,455 L480,490 M300,430 L290,480 M500,445 L550,465"/>
<path class="k" d="M60,610 L75,585 L100,590 L105,560 L90,545 L120,525 L170,545 L170,595 L105,635 Z"/><path d="M105,605 L170,570 M105,605 L105,635 M100,590 L105,605"/>
<path d="M640,510 L1380,905"/><path class="k" d="M620,550 L1345,942"/><path style="stroke-width:4" d="M700,585 L1250,880"/>
<ellipse cx="630" cy="530" rx="14" ry="22" transform="rotate(-25 630 530)"/><ellipse cx="1362" cy="924" rx="15" ry="23" transform="rotate(-25 1362 924)"/>
<ellipse class="k" cx="1112" cy="512" rx="22" ry="34" transform="rotate(-20 1112 512)"/><ellipse cx="1124" cy="510" rx="15" ry="25" transform="rotate(-20 1124 510)"/>
<path d="M1138,508 L1490,697 M1128,538 L1473,718"/>
<path style="stroke-width:8" d="M1395,670 L1478,712"/>
</g>
<g class="d" transform="translate(400,1800) scale(0.338983)"><!-- a16_p30_left.svgf -->
<path class="l" d="M1118,75 L1120,235 M1192,112 L1195,280 M1280,95 L1288,295 M1465,255 L1468,415 M1075,440 L1130,590 M1445,560 L1570,555 M88,885 L260,800 M428,905 L485,1005 M505,835 L598,1020 M268,1080 L262,1205 M383,1020 L385,1180 M1570,1065 L1572,1120 M705,-40 L705,120 M0,770 L85,772"/>
<path class="c t" d="M285,465 L420,530 M510,150 L590,185 M690,250 L810,310 L985,210 L1075,260 M680,430 L1665,968 M540,655 L340,775 L350,880 M270,710 L430,625 M1170,450 L1235,480 M1430,590 L1480,615"/>
<path d="M95,780 L235,710 M110,825 L262,750"/><ellipse cx="100" cy="802" rx="14" ry="24" transform="rotate(-25 100 802)"/>
<path class="k" d="M140,760 L160,800 M158,750 L178,790 M176,742 L196,782 M194,733 L214,773 M212,724 L232,764"/>
<path class="f" d="M225,712 L250,700 L272,735 L250,760 Z"/>
<path class="k" d="M276,770 L296,795"/>
<path class="k" d="M225,920 C225,895 255,895 270,915 L320,955 L325,1030 L290,1070 L255,1075 L235,1050 Z"/>
<path d="M270,915 L255,1000 L260,1070 M255,1000 L300,965 L325,1030"/><circle cx="262" cy="935" r="9"/><circle cx="296" cy="962" r="8"/><circle cx="290" cy="1030" r="9"/>
<path style="stroke-width:5" d="M374,1002 L422,1034"/><path style="stroke:#fff;stroke-width:1.8" d="M374,1002 L422,1034"/>
<path class="k" d="M1078,258 L1112,240 L1150,265 L1150,300 L1118,320 L1075,295 Z M1112,240 C1095,260 1095,300 1118,320"/>
<ellipse class="f" cx="1190" cy="320" rx="26" ry="35" transform="rotate(-20 1190 320)"/>
<path class="k" d="M1235,380 C1240,330 1300,300 1325,320 C1340,340 1330,450 1320,500 C1310,550 1270,570 1250,550 C1235,530 1230,450 1235,380 Z"/>
<path d="M1250,390 C1255,350 1300,325 1318,340 M1248,400 L1250,540"/>
<path style="stroke-width:4.5" d="M1290,420 L1292,510"/><path d="M1275,430 L1278,520 L1305,515"/><ellipse class="f" cx="1292" cy="365" rx="10" ry="13"/>
<path class="k" d="M1058,395 L1078,365 L1110,370 L1120,400 L1100,425 L1075,425 Z"/><path class="f" d="M1110,385 L1168,440 L1150,446 L1100,425 Z"/>
<path class="k" d="M1480,455 L1470,485 L1440,490 L1420,470 L1432,440 L1462,432 Z"/><path class="f" d="M1390,432 L1435,438 L1425,470 Z"/>
<path class="k" d="M1355,555 L1385,530 L1430,555 L1430,585 L1400,602 L1358,580 Z M1385,530 C1370,550 1375,585 1400,602"/>
<circle class="k" cx="1575" cy="1132" r="11"/><path d="M1552,1140 L1600,1115"/>
</g>
<g class="d" transform="translate(520,1820) scale(0.134831)"><!-- a16b_p30_left.svgf -->
<path class="k" d="M490,770 L430,800 L370,870 L370,1260 L385,1290 L415,1380 L400,1440 L300,1500 L250,1520 L160,1450 L125,1370 L130,1290 L175,1240 L160,700 L165,640 L200,560 L270,520 L760,260 L820,185 L870,165 L970,215 L990,260 L935,620 L925,900 L945,990 L1010,1270 L1000,1360 L960,1480 L720,1800 L715,1960 L690,2010 L620,2040 L560,2000 L540,1960 L515,830"/>
<path d="M830,290 L480,470 L370,560 M945,260 L900,600 M820,185 L900,230 L830,290"/>
<path class="k" d="M470,585 L850,380 C880,380 900,420 900,470 L890,600 L850,930 L935,1230 L930,1290 L720,1600 L690,1590 L680,1500 L650,860"/>
<path d="M500,605 L830,420 M870,480 L825,930 L905,1240 L900,1290 L730,1560 M540,820 L562,1950 M650,860 L700,2000"/>
<path style="stroke-width:5" d="M500,680 C560,600 720,590 730,680 C740,760 700,830 660,850 L610,820"/>
<path class="k" d="M560,780 C580,720 640,680 670,720 C680,760 650,800 620,820 Z M500,720 L560,690"/>
<ellipse class="f" cx="370" cy="715" rx="62" ry="88" transform="rotate(35 370 715)"/><ellipse class="w" style="stroke:none" cx="362" cy="735" rx="30" ry="42" transform="rotate(35 362 735)"/>
<path style="stroke-width:5" d="M240,720 C260,660 320,600 400,580 L470,590 L470,740 L380,800"/>
<path d="M220,780 L240,1280 M250,800 L270,1300 M345,850 L350,1260"/><path style="stroke-width:6" d="M310,800 L320,1290"/>
<ellipse class="k" cx="215" cy="1400" rx="68" ry="88" transform="rotate(-15 215 1400)"/><circle cx="208" cy="1400" r="36"/><circle cx="236" cy="1412" r="14"/>
<path d="M290,1330 C320,1380 320,1440 300,1500"/>
<path d="M400,1290 L460,1250 L475,1260 L480,1500 L410,1540"/>
<ellipse class="k" cx="945" cy="1370" rx="20" ry="32" transform="rotate(25 945 1370)"/><ellipse class="k" cx="890" cy="1470" rx="20" ry="32" transform="rotate(25 890 1470)"/><ellipse class="k" cx="830" cy="1565" rx="20" ry="32" transform="rotate(25 830 1565)"/><ellipse class="k" cx="765" cy="1670" rx="18" ry="30" transform="rotate(25 765 1670)"/>
<circle class="f" cx="815" cy="465" r="30"/><circle class="f" cx="600" cy="1975" r="30"/>
<path class="f" d="M205,150 L240,85 L330,75 L385,130 L375,215 L310,255 L235,225 Z"/><ellipse class="w" style="stroke:none" cx="270" cy="150" rx="22" ry="30" transform="rotate(25 270 150)"/><path class="w" style="stroke:none" d="M295,215 L320,185 L335,215 Z"/>
<path class="l" d="M390,215 L490,265"/>
<path class="f" d="M235,1880 L260,1810 L335,1785 L400,1830 L410,1900 L370,1945 L280,1950 Z"/><ellipse class="w" style="stroke:none" cx="275" cy="1880" rx="14" ry="22" transform="rotate(25 275 1880)"/><ellipse class="w" style="stroke:none" cx="312" cy="1862" rx="10" ry="18" transform="rotate(25 312 1862)"/>
<ellipse class="k" cx="105" cy="1985" rx="82" ry="112" transform="rotate(-25 105 1985)"/><ellipse class="f" cx="95" cy="1990" rx="38" ry="55" transform="rotate(-25 95 1990)"/><circle class="w" style="stroke:none" cx="100" cy="1985" r="12"/>
</g>
<g class="d" transform="translate(1000,2100) scale(0.217912)"><!-- a17_p57.svgf -->
<path class="l" d="M990,440 L1265,432 M1285,865 L1520,855 M65,1100 L195,1100 M545,1355 L680,1352 M1165,1260 L1160,1330 M70,555 L72,650 M680,610 L860,715 M960,770 L1170,890 M0,210 L40,240 M110,290 L150,315"/>
<path class="c t" d="M762,20 L762,230 M1250,935 L1665,1145 M110,640 L330,530"/>
<ellipse class="k" cx="785" cy="270" rx="108" ry="64"/><ellipse class="k" cx="790" cy="275" rx="68" ry="42"/><path d="M680,292 C700,345 860,352 890,302"/>
<path class="f" d="M722,275 C722,240 760,232 790,234 C760,250 750,280 760,310 C740,305 722,295 722,275 Z"/>
<path d="M195,420 C195,380 230,330 290,300 L340,320 L420,270 L570,190 L640,185 L690,220 M195,420 L215,470 L320,520 L325,480 L410,530 L410,580 L570,670 M290,400 L370,340 L340,320 M290,400 L520,550 L570,510 L690,530"/>
<path d="M440,280 L420,310 L440,325 L465,335 L462,290 Z M570,510 C600,490 660,500 690,530"/>
<ellipse cx="530" cy="395" rx="50" ry="30"/><ellipse class="f" cx="530" cy="392" rx="22" ry="12"/><path d="M470,450 L560,430 M480,420 L470,450"/><path d="M640,420 L680,415 L685,470 L660,470"/>
<ellipse class="k" cx="625" cy="610" rx="58" ry="75" transform="rotate(15 625 610)"/><ellipse cx="635" cy="615" rx="40" ry="52" transform="rotate(15 635 615)"/>
<path class="k" d="M890,320 L960,400 L975,440 L975,1090 L960,1200 L900,1235 L820,1190 L820,900 L810,590 L770,590"/>
<path d="M810,590 L810,720 L860,715 M500,640 L490,850 L440,870 L430,920 L500,985 L560,960 L640,940 L650,1000 L700,1040 L810,1060"/>
<path d="M520,670 L510,880 M530,750 C620,720 750,780 800,900 M530,770 C620,750 740,800 790,920 M610,780 L610,930 M650,870 L660,930 C700,960 760,950 780,930 M440,870 L480,850 L490,880 M630,680 L630,720 M660,680 L660,710"/>
<path d="M850,1090 L850,1140 L900,1170 L950,1150 L900,1115 L850,1140 M900,1170 L900,1230 M950,1150 L955,1200"/><circle cx="935" cy="1075" r="20"/><circle class="t" cx="905" cy="650" r="22"/>
<circle class="f" cx="235" cy="440" r="8"/><circle class="f" cx="520" cy="610" r="8"/>
<ellipse class="k" cx="1210" cy="910" rx="44" ry="58" transform="rotate(15 1210 910)"/><ellipse class="f" cx="1216" cy="915" rx="24" ry="34" transform="rotate(15 1216 915)"/>
<circle class="f" cx="70" cy="262" r="44"/>
<circle class="f" cx="66" cy="802" r="22"/><path class="k" d="M70,820 C82,900 62,1000 60,1100 C50,1200 12,1250 2,1385"/>
<path class="k" d="M405,1310 C400,1280 440,1260 460,1290 C465,1320 420,1340 410,1320 M440,1270 L545,1340 M480,1360 C480,1320 530,1320 545,1340 C545,1370 500,1400 480,1380"/>
<path style="stroke-width:9" d="M1152,1208 L1215,1240"/><path class="k" d="M1215,1220 L1310,1265 M1195,1255 L1290,1305"/><ellipse class="f" cx="1302" cy="1288" rx="20" ry="28" transform="rotate(-25 1302 1288)"/>
</g>
<g class="d" transform="translate(1080,1720) scale(0.188807)"><!-- a18_p59_58.svgf -->
<path class="l" d="M560,1275 L905,1262 M560,1830 L840,1820"/>
<path class="c t" d="M455,1960 L455,2190"/>
<ellipse cx="450" cy="112" rx="45" ry="20"/>
<path class="f" d="M405,115 C420,135 480,135 495,115 L505,235 C480,200 430,190 400,200 Z"/>
<path d="M400,200 L385,250 C400,275 500,275 512,250 L505,230"/>
<path d="M385,250 L395,1540"/><path class="k" d="M512,250 L518,1540"/>
<path class="k" d="M395,1540 C400,1582 510,1582 518,1540"/>
<ellipse class="k" cx="456" cy="1690" rx="86" ry="42"/><ellipse class="k" cx="456" cy="1696" rx="48" ry="22"/>
<path class="k" d="M370,1690 L370,1900 C380,1945 530,1945 542,1900 L542,1690"/>
</g>
<g class="d" transform="translate(500,2200) scale(0.338983)"><!-- a19_p34_104.svgf -->
<path class="l" d="M878,345 L878,410 M540,560 L540,630 M915,785 L985,787 M1172,345 L1175,400 M1352,255 L1352,320 M1180,130 L1225,180 M1312,100 L1360,82 M-68,911 L160,825"/>
<path class="c t" d="M440,690 L790,520 M960,430 L1290,262 M1400,200 L1440,180 M1535,130 L1660,66 M905,545 L900,730"/>
<path style="stroke-width:4" d="M1280,85 L1315,155"/>
<path class="f" d="M1222,168 L1240,160 L1262,245 L1252,248 Z"/>
<path class="k" d="M1445,152 L1520,122 L1530,145 L1455,180 Z"/><ellipse cx="1450" cy="166" rx="8" ry="14" transform="rotate(-20 1450 166)"/>
<ellipse class="k" cx="1350" cy="225" rx="45" ry="42"/><circle class="f" cx="1340" cy="228" r="11"/><circle class="f" cx="1362" cy="215" r="7"/><path class="k" d="M1320,250 L1300,265 L1305,280 L1340,262"/>
<ellipse class="k" cx="1175" cy="310" rx="27" ry="30"/><circle class="f" cx="1178" cy="312" r="14"/>
<path class="k" d="M790,470 C800,450 830,430 850,425 L935,475 L935,495 L880,545 L860,545 L795,500 Z"/>
<path d="M880,545 C880,510 910,480 935,475"/><path class="k" d="M895,440 L935,420 C950,425 955,445 945,455 L920,470"/>
<circle class="f" cx="852" cy="436" r="10"/><circle cx="835" cy="505" r="10"/><circle class="f" cx="920" cy="482" r="14"/>
<path class="f" d="M882,755 L900,755 L902,815 L880,815 Z"/><ellipse class="k" cx="888" cy="828" rx="25" ry="16"/>
<circle class="f" cx="525" cy="655" r="6"/><circle class="f" cx="490" cy="676" r="6"/><path d="M625,605 L700,575 M632,618 L640,600 M700,570 L705,582"/>
<path d="M315,745 L350,725 L420,690 L445,700 L455,730 L380,770 L330,755 Z M350,725 C370,735 382,755 380,770"/>
<path style="stroke-width:4.6" d="M55,670 L405,885 L405,960 L50,735 Z"/>
<path style="stroke-width:6;stroke-dasharray:7 2 12 2;stroke-linecap:butt" d="M72,718 L205,802 M225,818 L385,918"/>
</g>
<g class="d" transform="translate(1000,2380) scale(0.217912)"><!-- a20_p44_60.svgf -->
<path class="l" d="M635,305 L740,305 M322,480 L322,548"/>
<path d="M205,200 C210,130 270,80 320,90 L375,125 C385,150 370,182 345,190 M205,200 L215,225 L500,410 L515,412 L515,365 C520,320 540,300 560,280 M260,215 L265,245 M300,235 C330,200 400,190 440,215 C460,240 440,275 400,300 L425,320 L420,345 M425,320 C460,300 480,260 545,245 L600,275"/>
<path class="k" d="M320,150 C290,170 285,210 300,235 M215,225 L500,410"/>
<ellipse class="k" cx="600" cy="310" rx="27" ry="32" transform="rotate(20 600 310)"/><ellipse class="f" cx="395" cy="240" rx="20" ry="15"/><ellipse class="k" cx="355" cy="155" rx="10" ry="16" transform="rotate(20 355 155)"/>
<path d="M545,325 L575,290"/>
<circle class="f" cx="330" cy="438" r="35"/>
</g>
<g class="d" transform="translate(1380,2180) scale(0.290554)"><!-- a21_p55.svgf -->
<path class="l" d="M262,60 L280,250 M445,95 L460,325 M683,225 L705,490 M770,270 L790,525 M35,458 L180,455 M440,695 L605,688 M960,762 L1170,745 M1110,968 L1285,962 M360,345 L400,370 M290,460 L380,510 M470,400 L680,520"/>
<path class="c t" d="M835,610 L885,635 L885,650 L690,760 L750,800 M0,600 L560,915 M870,860 L1010,945"/>
<path class="f" d="M240,290 L268,258 L300,265 L355,318 L352,352 L290,345 L250,330 Z"/><ellipse class="w" style="stroke:none" cx="262" cy="300" rx="8" ry="16" transform="rotate(-25 262 300)"/>
<path class="k" d="M205,425 L240,400 L290,425 L290,465 L255,490 L205,465 Z M240,400 C225,425 230,470 255,490"/><circle cx="265" cy="455" r="9"/>
<path class="k" d="M380,420 C390,380 440,330 470,330 C495,340 495,380 500,410 L520,430 L560,420 L600,440 L605,540 L560,550 L540,575 L480,600 C450,620 420,635 400,615 C380,580 375,480 380,420 Z"/>
<path d="M400,430 C410,390 450,350 480,350 M398,440 L402,600 M560,470 L560,550 M580,455 L582,545"/>
<path class="k" d="M440,450 C440,430 470,430 470,450 L470,540 L515,520 M440,450 L440,560 C440,580 470,580 490,560 L520,535"/>
<circle class="f" cx="455" cy="386" r="14"/>
<ellipse style="stroke-width:5" cx="703" cy="538" rx="30" ry="38" transform="rotate(15 703 538)"/><ellipse class="f" cx="708" cy="542" rx="12" ry="20" transform="rotate(15 708 542)"/>
<path class="k" d="M750,580 L785,548 L835,575 L832,612 L800,635 L755,610 Z M785,548 C765,575 775,620 800,635"/><circle cx="808" cy="600" r="9"/>
<path class="k" d="M572,615 L640,620 L685,635 L690,660 L660,700 L625,690 Z"/><path class="f" d="M572,615 L640,622 L625,685 Z"/><ellipse cx="665" cy="668" rx="18" ry="28" transform="rotate(20 665 668)"/>
<path class="f" d="M1020,955 L1040,928 L1078,930 L1095,955 L1088,990 L1060,1005 L1028,992 Z"/><ellipse class="w" style="stroke:none" cx="1050" cy="955" rx="11" ry="8"/>
</g>
<g class="d" transform="translate(1480,2380) scale(0.230044)"><!-- a22_p30_right.svgf -->
<path class="l" d="M992,890 L995,1150 M1197,900 L1200,1120 M1335,960 L1342,1215 M305,1300 L320,1510 M428,1220 L445,1535"/>
<path class="c t" d="M0,140 L265,285 M470,390 L1175,790 M600,1030 L760,950 M480,1110 L520,1090"/>
<path class="l" d="M660,225 L850,320"/>
<path class="k" d="M275,350 C275,300 300,265 345,250 L640,95 L680,50 L720,60 L750,95 L720,480 L770,680 L760,760 L600,1000 L595,1090 L555,1130 L520,1120 L495,1080 L480,400"/>
<path d="M400,285 L650,170 L690,180 L700,210 L670,500 L720,680 L600,870 L575,850 L565,440 M430,290 L640,185 M720,200 L690,490 L745,690 L600,950 M640,95 L690,180"/>
<path class="k" d="M275,350 L285,560 L270,680 L250,700 L255,760 L320,820 L400,780 L420,740 L400,690 L395,460 L440,400"/>
<path d="M320,390 L325,680 M350,400 L355,690 M545,440 L555,1080"/><path class="k" d="M370,420 L372,690"/>
<ellipse class="k" cx="310" cy="750" rx="34" ry="44" transform="rotate(-15 310 750)"/>
<ellipse style="stroke-width:4.5" cx="395" cy="362" rx="42" ry="60" transform="rotate(30 395 362)"/><ellipse class="k" cx="398" cy="365" rx="24" ry="38" transform="rotate(30 398 365)"/>
<path class="k" d="M455,300 C480,290 560,300 590,330 C610,380 600,420 580,440 L555,430 M470,350 C500,320 570,330 575,380 L550,410 L490,392"/>
<ellipse cx="735" cy="740" rx="9" ry="13" transform="rotate(25 735 740)"/><ellipse cx="700" cy="795" rx="9" ry="13" transform="rotate(25 700 795)"/><ellipse cx="665" cy="850" rx="9" ry="13" transform="rotate(25 665 850)"/><ellipse cx="622" cy="910" rx="9" ry="13" transform="rotate(25 622 910)"/>
<circle class="f" cx="650" cy="215" r="12"/><circle class="f" cx="528" cy="1085" r="12"/>
<path class="f" d="M852,340 L875,310 L920,308 L945,335 L940,380 L905,400 L868,388 Z"/><ellipse class="w" style="stroke:none" cx="885" cy="335" rx="12" ry="9"/>
<path style="stroke-width:7;stroke-dasharray:2.5 1.5;stroke-linecap:butt" d="M785,935 L945,842"/><ellipse class="k" cx="978" cy="815" rx="40" ry="34"/><ellipse cx="990" cy="810" rx="24" ry="28"/>
<ellipse class="k" cx="1222" cy="810" rx="36" ry="50" transform="rotate(20 1222 810)"/><ellipse class="f" cx="1228" cy="815" rx="16" ry="28" transform="rotate(20 1228 815)"/>
<path class="k" d="M1280,870 L1300,830 L1350,822 L1385,855 L1378,905 L1340,930 L1295,915 Z"/><circle class="f" cx="1345" cy="885" r="20"/><path d="M1300,830 L1320,870 L1295,915 M1320,870 L1385,855"/>
<ellipse class="k" cx="418" cy="1148" rx="30" ry="42" transform="rotate(-25 418 1148)"/><ellipse class="f" cx="415" cy="1148" rx="12" ry="20" transform="rotate(-25 415 1148)"/>
<path class="k" d="M250,1215 L268,1180 L310,1175 L340,1205 L335,1250 L300,1268 L262,1255 Z"/><circle cx="292" cy="1215" r="16"/><path d="M268,1180 L290,1222 L262,1255 M290,1222 L340,1205"/>
</g>
<g class="d" transform="translate(0,0) scale(1.000000)"><!-- z01_extra.svgf -->
<path class="l" d="M1086,61.5 L1139,61.5 M1040,190.7 L1097,190.7 M1069,554.2 L1128,554.2 M963,804.5 L1014,804.5 M1583,1032 L1581.7,1089 M1539.7,1063 L1539,1080 M1338,1334 L1367,1334 M1338,1457.5 L1360,1457.5 M1552,1583 L1562,1583 M973.3,2108.7 L1007.2,2151 M386,2060.5 L402,2060.8"/>
</g>
<g class="lab" style="filter:grayscale(1)">
<text x="1072" y="67" textLength="10" lengthAdjust="spacingAndGlyphs">1</text>
<text x="1023" y="199" textLength="14.7" lengthAdjust="spacingAndGlyphs">2</text>
<text x="1407" y="352" textLength="29.4" lengthAdjust="spacingAndGlyphs">92</text>
<text x="1346" y="452" textLength="29.4" lengthAdjust="spacingAndGlyphs">93</text>
<text x="1050" y="563" textLength="14.7" lengthAdjust="spacingAndGlyphs">3</text>
<text x="1285" y="720" textLength="29.4" lengthAdjust="spacingAndGlyphs">90</text>
<text x="1394" y="880" textLength="29.4" lengthAdjust="spacingAndGlyphs">80</text>
<text x="946" y="813" textLength="14.7" lengthAdjust="spacingAndGlyphs">4</text>
<text x="1415" y="931" textLength="29.4" lengthAdjust="spacingAndGlyphs">79</text>
<text x="1440" y="969" textLength="29.4" lengthAdjust="spacingAndGlyphs">78</text>
<text x="1025" y="1032" textLength="14.7" lengthAdjust="spacingAndGlyphs">5</text>
<text x="1030" y="1125" textLength="14.7" lengthAdjust="spacingAndGlyphs">6</text>
<text x="1369" y="1342" textLength="29.4" lengthAdjust="spacingAndGlyphs">66</text>
<text x="1323" y="1395" textLength="29.4" lengthAdjust="spacingAndGlyphs">65</text>
<text x="1362" y="1465" textLength="29.4" lengthAdjust="spacingAndGlyphs">64</text>
<text x="1323" y="1576" textLength="39.4" lengthAdjust="spacingAndGlyphs">103</text>
<text x="1010" y="1376" textLength="14.7" lengthAdjust="spacingAndGlyphs">8</text>
<text x="1204" y="1661" textLength="29.4" lengthAdjust="spacingAndGlyphs">98</text>
<text x="1055" y="1687" textLength="24.7" lengthAdjust="spacingAndGlyphs">21</text>
<text x="1054" y="1721" textLength="29.4" lengthAdjust="spacingAndGlyphs">22</text>
<text x="922" y="983" textLength="14.7" lengthAdjust="spacingAndGlyphs">9</text>
<text x="769" y="872" textLength="24.7" lengthAdjust="spacingAndGlyphs">81</text>
<text x="548" y="890" textLength="14.7" lengthAdjust="spacingAndGlyphs">7</text>
<text x="548" y="959" textLength="27" lengthAdjust="spacingAndGlyphs">7A</text>
<text x="518" y="981" textLength="28" lengthAdjust="spacingAndGlyphs">7B</text>
<text x="671" y="1058" textLength="29.4" lengthAdjust="spacingAndGlyphs">99</text>
<text x="749" y="1100" textLength="29.4" lengthAdjust="spacingAndGlyphs">89</text>
<text x="1531" y="785" textLength="50" lengthAdjust="spacingAndGlyphs">76A</text>
<text x="1705" y="802" textLength="29.4" lengthAdjust="spacingAndGlyphs">75</text>
<text x="1859" y="864" textLength="29.4" lengthAdjust="spacingAndGlyphs">74</text>
<text x="1495" y="950" textLength="46" lengthAdjust="spacingAndGlyphs">76B</text>
<text x="1616" y="990" textLength="29.4" lengthAdjust="spacingAndGlyphs">76</text>
<text x="1571" y="1029" textLength="29.4" lengthAdjust="spacingAndGlyphs">77</text>
<text x="1527" y="1059" textLength="29.4" lengthAdjust="spacingAndGlyphs">96</text>
<text x="1608" y="1225" textLength="29.4" lengthAdjust="spacingAndGlyphs">70</text>
<text x="1679" y="1253" textLength="24.7" lengthAdjust="spacingAndGlyphs">71</text>
<text x="1826" y="1289" textLength="29.4" lengthAdjust="spacingAndGlyphs">72</text>
<text x="1898" y="1308" textLength="29.4" lengthAdjust="spacingAndGlyphs">73</text>
<text x="1553" y="1323" textLength="29.4" lengthAdjust="spacingAndGlyphs">69</text>
<text x="1486" y="1364" textLength="29.4" lengthAdjust="spacingAndGlyphs">68</text>
<text x="1532" y="1379" textLength="29.4" lengthAdjust="spacingAndGlyphs">96</text>
<text x="1426" y="1405" textLength="29.4" lengthAdjust="spacingAndGlyphs">67</text>
<text x="1807" y="1332" textLength="29.4" lengthAdjust="spacingAndGlyphs">82</text>
<text x="1841" y="1382" textLength="29.4" lengthAdjust="spacingAndGlyphs">83</text>
<text x="1875" y="1513" textLength="29.4" lengthAdjust="spacingAndGlyphs">84</text>
<text x="1643" y="1574" textLength="29.4" lengthAdjust="spacingAndGlyphs">86</text>
<text x="1811" y="1604" textLength="29.4" lengthAdjust="spacingAndGlyphs">85</text>
<text x="1652" y="1630" textLength="29.4" lengthAdjust="spacingAndGlyphs">87</text>
<text x="1518" y="1594" textLength="29.4" lengthAdjust="spacingAndGlyphs">88</text>
<text x="1618" y="1700" textLength="29.4" lengthAdjust="spacingAndGlyphs">63</text>
<text x="1565" y="1863" textLength="29.4" lengthAdjust="spacingAndGlyphs">62</text>
<text x="1524" y="1885" textLength="24.7" lengthAdjust="spacingAndGlyphs">61</text>
<text x="673" y="1216" textLength="24.7" lengthAdjust="spacingAndGlyphs">13</text>
<text x="604" y="1266" textLength="24.7" lengthAdjust="spacingAndGlyphs">14</text>
<text x="917" y="1271" textLength="20" lengthAdjust="spacingAndGlyphs">11</text>
<text x="962" y="1313" textLength="24.7" lengthAdjust="spacingAndGlyphs">10</text>
<text x="762" y="1342" textLength="24.7" lengthAdjust="spacingAndGlyphs">12</text>
<text x="613" y="1440" textLength="24.7" lengthAdjust="spacingAndGlyphs">15</text>
<text x="567" y="1461" textLength="24.7" lengthAdjust="spacingAndGlyphs">16</text>
<text x="625" y="1572" textLength="24.7" lengthAdjust="spacingAndGlyphs">17</text>
<text x="616" y="1619" textLength="24.7" lengthAdjust="spacingAndGlyphs">18</text>
<text x="952" y="1748" textLength="24.7" lengthAdjust="spacingAndGlyphs">19</text>
<text x="1002" y="1727" textLength="29.4" lengthAdjust="spacingAndGlyphs">20</text>
<text x="167" y="1721" textLength="39.4" lengthAdjust="spacingAndGlyphs">100</text>
<text x="220" y="1714" textLength="39.4" lengthAdjust="spacingAndGlyphs">102</text>
<text x="113" y="1779" textLength="34.7" lengthAdjust="spacingAndGlyphs">101</text>
<text x="348" y="1770" textLength="29.4" lengthAdjust="spacingAndGlyphs">33</text>
<text x="430" y="1767" textLength="29.4" lengthAdjust="spacingAndGlyphs">32</text>
<text x="552" y="1773" textLength="24.7" lengthAdjust="spacingAndGlyphs">31</text>
<text x="623" y="1781" textLength="29.4" lengthAdjust="spacingAndGlyphs">30</text>
<text x="761" y="1824" textLength="29.4" lengthAdjust="spacingAndGlyphs">29</text>
<text x="790" y="1836" textLength="29.4" lengthAdjust="spacingAndGlyphs">28</text>
<text x="822" y="1827" textLength="29.4" lengthAdjust="spacingAndGlyphs">27</text>
<text x="881" y="1884" textLength="29.4" lengthAdjust="spacingAndGlyphs">26</text>
<text x="783" y="2017" textLength="29.4" lengthAdjust="spacingAndGlyphs">26</text>
<text x="936" y="1997" textLength="29.4" lengthAdjust="spacingAndGlyphs">25</text>
<text x="391" y="2115" textLength="29.4" lengthAdjust="spacingAndGlyphs">95</text>
<text x="549" y="2168" textLength="29.4" lengthAdjust="spacingAndGlyphs">38</text>
<text x="593" y="2168" textLength="29.4" lengthAdjust="spacingAndGlyphs">94</text>
<text x="473" y="2230" textLength="29.4" lengthAdjust="spacingAndGlyphs">36</text>
<text x="519" y="2220" textLength="29.4" lengthAdjust="spacingAndGlyphs">37</text>
<text x="915" y="2155" letter-spacing="3">23</text>
<text x="951" y="2107" textLength="29.4" lengthAdjust="spacingAndGlyphs">39</text>
<text x="872" y="2247" textLength="29.4" lengthAdjust="spacingAndGlyphs">97</text>
<text x="1278" y="2202" textLength="29.4" lengthAdjust="spacingAndGlyphs">57</text>
<text x="1333" y="2294" textLength="29.4" lengthAdjust="spacingAndGlyphs">39</text>
<text x="1044" y="2345" textLength="29.4" lengthAdjust="spacingAndGlyphs">43</text>
<text x="1150" y="2404" textLength="29.4" lengthAdjust="spacingAndGlyphs">48</text>
<text x="1235" y="2412" textLength="29.4" lengthAdjust="spacingAndGlyphs">45</text>
<text x="1001" y="2219" textLength="24.7" lengthAdjust="spacingAndGlyphs">41</text>
<text x="1254" y="1969" textLength="29.4" lengthAdjust="spacingAndGlyphs">59</text>
<text x="1240" y="2075" textLength="29.4" lengthAdjust="spacingAndGlyphs">58</text>
<text x="784" y="2308" textLength="29.4" lengthAdjust="spacingAndGlyphs">34</text>
<text x="669" y="2385" textLength="29.4" lengthAdjust="spacingAndGlyphs">42</text>
<text x="837" y="2477" textLength="29.4" lengthAdjust="spacingAndGlyphs">46</text>
<text x="881" y="2357" textLength="29.4" lengthAdjust="spacingAndGlyphs">47</text>
<text x="944" y="2336" textLength="29.4" lengthAdjust="spacingAndGlyphs">40</text>
<text x="962" y="2237" textLength="24.7" lengthAdjust="spacingAndGlyphs">91</text>
<text x="428" y="2519" textLength="39.4" lengthAdjust="spacingAndGlyphs">104</text>
<text x="1166" y="2454" textLength="29.4" lengthAdjust="spacingAndGlyphs">44</text>
<text x="1054" y="2522" textLength="29.4" lengthAdjust="spacingAndGlyphs">60</text>
<text x="1441" y="2194" textLength="29.4" lengthAdjust="spacingAndGlyphs">26</text>
<text x="1496" y="2207" textLength="29.4" lengthAdjust="spacingAndGlyphs">55</text>
<text x="1562" y="2240" textLength="29.4" lengthAdjust="spacingAndGlyphs">28</text>
<text x="1588" y="2258" textLength="29.4" lengthAdjust="spacingAndGlyphs">54</text>
<text x="1357" y="2322" textLength="29.4" lengthAdjust="spacingAndGlyphs">56</text>
<text x="1474" y="2394" textLength="29.4" lengthAdjust="spacingAndGlyphs">26</text>
<text x="1721" y="2404" textLength="29.4" lengthAdjust="spacingAndGlyphs">30</text>
<text x="1755" y="2468" textLength="24.7" lengthAdjust="spacingAndGlyphs">31</text>
<text x="1695" y="2669" textLength="24.7" lengthAdjust="spacingAndGlyphs">51</text>
<text x="1742" y="2662" textLength="29.4" lengthAdjust="spacingAndGlyphs">52</text>
<text x="1774" y="2686" textLength="29.4" lengthAdjust="spacingAndGlyphs">53</text>
<text x="1536" y="2750" textLength="29.4" lengthAdjust="spacingAndGlyphs">49</text>
<text x="1570" y="2757" textLength="29.4" lengthAdjust="spacingAndGlyphs">50</text>
<text x="354" y="2073" textLength="29.4" lengthAdjust="spacingAndGlyphs">35</text>
</g>
</svg></body></html>
